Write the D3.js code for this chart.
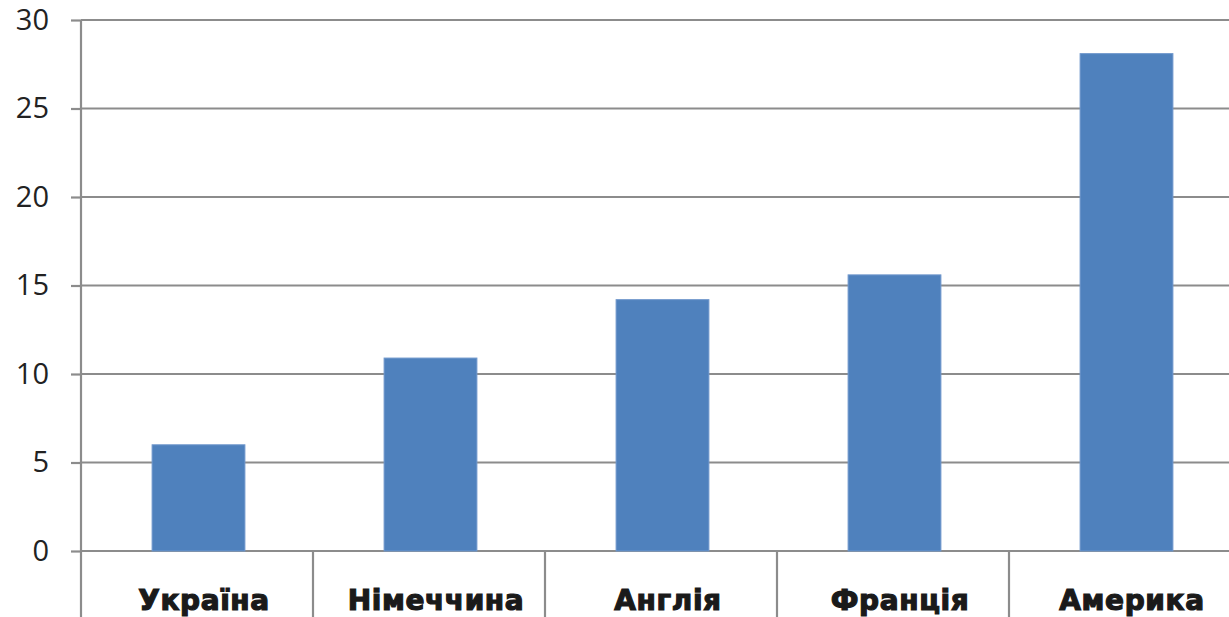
<!DOCTYPE html>
<html>
<head>
<meta charset="utf-8">
<script src="https://cdn.jsdelivr.net/npm/d3@7"></script>
<style>
  body { margin: 0; background: #fff; overflow: hidden; }
</style>
</head>
<body>
<div id="chart"></div>
<script>
const categories = ['Україна', 'Німеччина', 'Англія', 'Франція', 'Америка'];
const values = [6, 10.9, 14.2, 15.6, 28.1];
const yTicks = [0, 5, 10, 15, 20, 25, 30];

const W = 1229, H = 617;
const margin = { top: 20, left: 81 };
const plotW = 232 * 5;           // plot runs past the right edge, as in the picture
const zeroY = 551;

const svg = d3.select('#chart').append('svg')
  .attr('width', W)
  .attr('height', H);

const x = d3.scaleBand()
  .domain(categories)
  .range([margin.left, margin.left + plotW])
  .paddingInner(0)
  .paddingOuter(0);

const y = d3.scaleLinear()
  .domain([0, 30])
  .range([zeroY, margin.top]);

const gridColor = '#8c8c8c';

// Gridlines + y axis
const yAxis = d3.axisLeft(y).tickValues(yTicks).tickSize(10).tickPadding(22);
const yG = svg.append('g')
  .attr('transform', `translate(${margin.left},0)`)
  .call(yAxis);
yG.select('.domain').remove();
yG.selectAll('.tick line').attr('stroke', gridColor).attr('stroke-width', 2.2);
yG.selectAll('.tick text')
  .attr('font-family', '"Open Sans", "DejaVu Sans", sans-serif')
  .attr('font-size', 29)
  .attr('fill', '#222');

svg.append('g').selectAll('line')
  .data(yTicks)
  .join('line')
  .attr('x1', margin.left)
  .attr('x2', margin.left + plotW)
  .attr('y1', d => y(d))
  .attr('y2', d => y(d))
  .attr('stroke', gridColor)
  .attr('stroke-width', 2.2);

// Bars
const barW = x.bandwidth() * 0.4;
svg.append('g').selectAll('rect')
  .data(values)
  .join('rect')
  .attr('x', (d, i) => x(categories[i]) + (x.bandwidth() - barW) / 2 + 1.5)
  .attr('y', d => y(d))
  .attr('width', barW)
  .attr('height', d => y(0) - y(d))
  .attr('fill', '#4f81bd')
  .attr('stroke', '#6f97cc')
  .attr('stroke-width', 1);

// Vertical axis line
svg.append('line')
  .attr('x1', margin.left).attr('x2', margin.left)
  .attr('y1', margin.top).attr('y2', H)
  .attr('stroke', gridColor)
  .attr('stroke-width', 2.2);

// Category axis
const xAxis = d3.axisBottom(x).tickSize(0).tickPadding(0);
const xG = svg.append('g')
  .attr('transform', `translate(0,${zeroY})`)
  .call(xAxis);
xG.select('.domain').remove();
xG.selectAll('.tick text')
  .attr('dy', 0)
  .attr('x', 7)
  .attr('y', 59)
  .attr('font-family', '"DejaVu Sans", sans-serif')
  .attr('font-weight', 'bold')
  .attr('font-size', 28)
  .attr('letter-spacing', 0.6)
  .attr('fill', '#1a1a1a')
  .attr('stroke', '#1a1a1a')
  .attr('stroke-width', 1.2);

// Category separators below zero
svg.append('g').selectAll('line')
  .data(categories.slice(1))
  .join('line')
  .attr('x1', d => x(d))
  .attr('x2', d => x(d))
  .attr('y1', zeroY)
  .attr('y2', H)
  .attr('stroke', gridColor)
  .attr('stroke-width', 2.2);
</script>
</body>
</html>
